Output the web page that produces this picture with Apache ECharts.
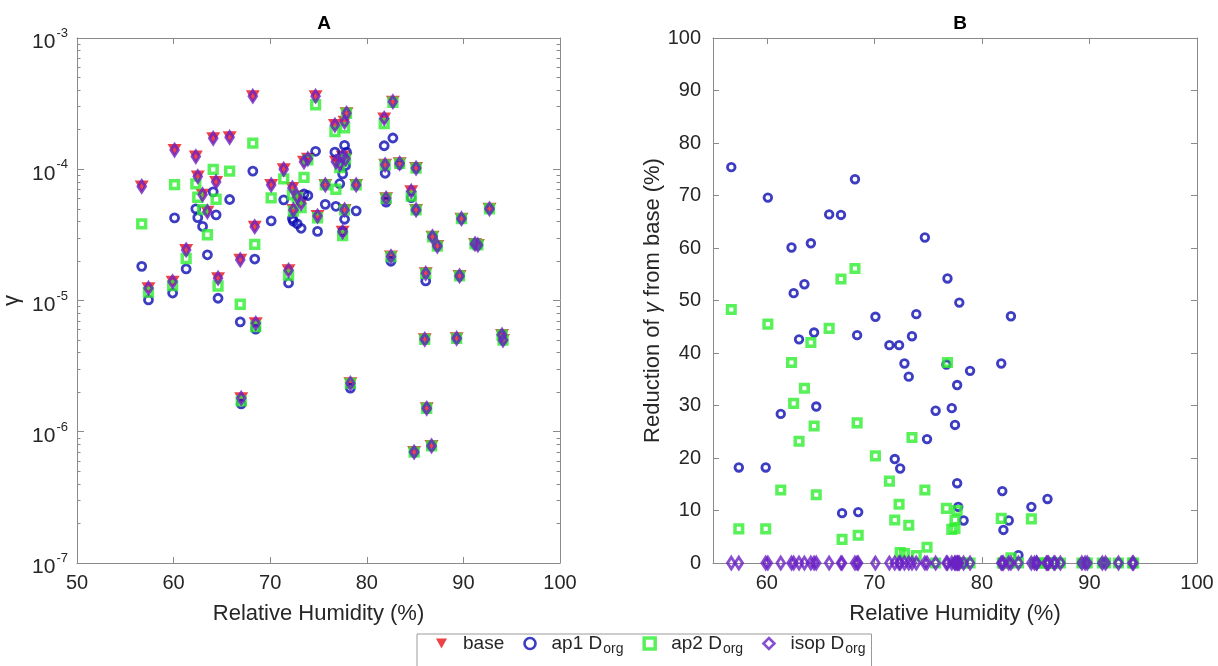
<!DOCTYPE html>
<html><head><meta charset="utf-8">
<script src="https://cdn.jsdelivr.net/npm/echarts@6/dist/echarts.min.js"></script>
<style>html,body{margin:0;padding:0;background:#fff}#c{width:1218px;height:666px}</style>
</head><body><div id="c"></div>
<script>
// Relative humidity (%) of each case
const rh = [56.7,57.4,59.9,60.1,61.3,62.3,62.5,63.0,63.5,64.1,64.4,64.6,65.8,66.9,67.0,68.2,68.4,68.5,70.1,71.4,71.9,72.3,72.4,72.8,73.2,73.5,73.9,74.7,74.9,75.7,76.7,76.8,77.2,77.5,77.5,77.7,77.7,77.8,77.9,78.3,78.9,81.8,81.9,82.0,82.5,82.7,83.4,84.6,84.9,85.1,85.1,86.0,86.1,86.2,86.7,86.8,87.3,89.3,89.6,89.8,91.2,91.5,92.7,94.0,94.1];
// Panel A: gamma values
const gBase = [7.4e-5,1.24e-5,1.39e-5,1.40e-4,2.43e-5,1.25e-4,8.8e-5,6.4e-5,4.75e-5,1.72e-4,8.0e-5,1.48e-5,1.75e-4,2.04e-5,1.8e-6,3.6e-4,3.65e-5,6.7e-6,7.6e-5,1.0e-4,1.7e-5,7.2e-5,4.9e-5,6.2e-5,5.5e-5,1.14e-4,1.2e-4,3.6e-4,4.4e-5,7.6e-5,2.17e-4,1.14e-4,1.1e-4,1.25e-4,3.34e-5,2.3e-4,4.9e-5,1.2e-4,2.67e-4,2.34e-6,7.6e-5,2.44e-4,1.08e-4,6.0e-5,2.16e-5,3.27e-4,1.11e-4,6.8e-5,7.0e-7,1.02e-4,4.9e-5,5.06e-6,1.61e-5,1.51e-6,7.8e-7,3.06e-5,2.6e-5,5.15e-6,1.54e-5,4.2e-5,2.7e-5,2.65e-5,5.0e-5,5.46e-6,5.0e-6];
const gAp1 = [1.82e-5,1.01e-5,1.14e-5,4.26e-5,1.74e-5,4.99e-5,4.28e-5,3.67e-5,2.23e-5,6.73e-5,4.49e-5,1.04e-5,5.88e-5,6.87e-6,1.63e-6,9.68e-5,2.07e-5,6.05e-6,4.04e-5,5.85e-5,1.36e-5,4.21e-5,4.02e-5,3.84e-5,3.55e-5,6.48e-5,6.31e-5,1.37e-4,3.36e-5,5.40e-5,1.35e-4,5.22e-5,7.76e-5,9.21e-5,3.34e-5,1.52e-4,4.16e-5,1.07e-4,1.35e-4,2.15e-6,4.82e-5,1.51e-4,9.32e-5,5.62e-5,1.99e-5,1.73e-4,1.09e-4,6.07e-5,7.0e-7,1.02e-4,4.9e-5,5.06e-6,1.41e-5,1.51e-6,7.8e-7,3.06e-5,2.6e-5,5.15e-6,1.54e-5,4.2e-5,2.7e-5,2.65e-5,5.0e-5,5.46e-6,5.0e-6];
const gAp2 = [3.83e-5,1.16e-5,1.30e-5,7.63e-5,2.09e-5,7.73e-5,6.12e-5,4.92e-5,3.17e-5,9.98e-5,5.91e-5,1.29e-5,9.68e-5,9.36e-6,1.72e-6,1.58e-4,2.68e-5,6.34e-6,6.05e-5,8.44e-5,1.56e-5,6.39e-5,4.80e-5,6.09e-5,5.10e-5,8.68e-5,1.18e-4,3.10e-4,4.27e-5,7.6e-5,1.94e-4,7.04e-5,1.03e-4,1.15e-4,3.12e-5,2.07e-4,4.9e-5,1.2e-4,2.67e-4,2.34e-6,7.6e-5,2.23e-4,1.08e-4,6.0e-5,2.16e-5,3.24e-4,1.11e-4,6.23e-5,7.0e-7,1.02e-4,4.9e-5,5.06e-6,1.61e-5,1.51e-6,7.8e-7,3.06e-5,2.6e-5,5.15e-6,1.54e-5,4.2e-5,2.7e-5,2.65e-5,5.0e-5,5.46e-6,5.0e-6];
const gIsop = [7.4e-5,1.24e-5,1.39e-5,1.40e-4,2.43e-5,1.25e-4,8.8e-5,6.4e-5,4.75e-5,1.72e-4,8.0e-5,1.48e-5,1.75e-4,2.04e-5,1.8e-6,3.6e-4,3.65e-5,6.7e-6,7.6e-5,1.0e-4,1.7e-5,7.2e-5,4.9e-5,6.2e-5,5.5e-5,1.14e-4,1.2e-4,3.6e-4,4.4e-5,7.6e-5,2.17e-4,1.14e-4,1.1e-4,1.25e-4,3.34e-5,2.3e-4,4.9e-5,1.2e-4,2.67e-4,2.34e-6,7.6e-5,2.44e-4,1.08e-4,6.0e-5,2.16e-5,3.27e-4,1.11e-4,6.8e-5,7.0e-7,1.02e-4,4.9e-5,5.06e-6,1.61e-5,1.51e-6,7.8e-7,3.06e-5,2.6e-5,5.15e-6,1.54e-5,4.2e-5,2.7e-5,2.65e-5,5.0e-5,5.46e-6,5.0e-6];
// Panel B: reduction of gamma from base (%)
const redAp1 = [75.4,18.2,18.2,69.6,28.4,60.1,51.4,42.6,53.1,60.9,43.9,29.8,66.4,66.3,9.5,73.1,43.4,9.7,46.9,41.5,19.8,41.5,18.0,38.0,35.5,43.2,47.4,62.0,23.6,29.0,37.8,54.2,29.5,26.3,0,33.9,15.2,10.7,49.6,8.1,36.6,38.0,13.7,6.3,8.1,47.0,1.5,10.7,0,0,0,0,12.2,0,0,0,0,0,0,0,0,0,0,0,0];
const redAp2 = [48.3,6.5,6.5,45.5,13.9,38.2,30.4,23.2,33.3,42.0,26.1,13.0,44.7,54.1,4.5,56.1,26.7,5.3,20.4,15.6,8.2,11.2,2.0,1.8,7.2,23.9,1.4,13.9,3.0,0,10.4,38.2,6.4,8.2,6.6,10.0,0,0,0,0,0,8.5,0,0,0,1.0,0,8.4,0,0,0,0,0,0,0,0,0,0,0,0,0,0,0,0,0];
const redIsop = [0,0,0,0,0,0,0,0,0,0,0,0,0,0,0,0,0,0,0,0,0,0,0,0,0,0,0,0,0,0,0,0,0,0,0,0,0,0,0,0,0,0,0,0,0,0,0,0,0,0,0,0,0,0,0,0,0,0,0,0,0,0,0,0,0];
// Tick values
const decadeTicks = [1e-7,1e-6,1e-5,1e-4,1e-3];
const minorTicksA = [2e-7,3e-7,4e-7,5e-7,6e-7,7e-7,8e-7,9e-7,2e-6,3e-6,4e-6,5e-6,6e-6,7e-6,8e-6,9e-6,2e-5,3e-5,4e-5,5e-5,6e-5,7e-5,8e-5,9e-5,2e-4,3e-4,4e-4,5e-4,6e-4,7e-4,8e-4,9e-4];
const xTicksB = [60,70,80,90,100];

const FONT = '"Liberation Sans", Arial, Helvetica, sans-serif';
const AX = '#8a8a8a', TXT = '#262626';
const RED = '#e8141a', BLUE = '#0c0cb4', GREEN = '#30ee30', PURPLE = '#6c22c4';
const triDown = 'path://M0,0L10,0L5,9Z';
const pairs = (xs, ys) => xs.map((x, i) => [x, ys[i]]);

const chart = echarts.init(document.getElementById('c'));

const lineStyle = {color: AX, width: 1};
function xAx(grid, pos, min, max, withLabel, name) {
  const a = {
    gridIndex: grid, type: 'value', position: pos, min: min, max: max,
    axisLine: {show: true, onZero: false, lineStyle},
    axisTick: {show: true, inside: true, length: 6, lineStyle},
    axisLabel: {show: withLabel, fontSize: 20, color: TXT, fontFamily: FONT, margin: 10},
    splitLine: {show: false}
  };
  if (min === 50) { a.interval = 10; } else { a.axisTick.customValues = xTicksB; a.axisLabel.customValues = xTicksB; }
  if (name) {
    a.name = name; a.nameLocation = 'middle'; a.nameGap = 40;
    a.nameTextStyle = {fontSize: 22, color: TXT, fontFamily: FONT};
  }
  return a;
}
const expLabel = {
  b: {fontSize: 21, color: TXT, fontFamily: FONT, lineHeight: 30, verticalAlign: 'bottom'},
  e: {fontSize: 13, color: TXT, fontFamily: FONT, lineHeight: 30, verticalAlign: 'top', padding: [4, 0, 0, 1]}
};
function logAx(pos, withLabel, ticks, len, line) {
  return {
    gridIndex: 0, type: 'log', logBase: 10, position: pos, min: 1e-7, max: 1e-3,
    axisLine: {show: line, onZero: false, lineStyle},
    axisTick: {show: true, inside: true, length: len, lineStyle, customValues: ticks},
    axisLabel: {show: withLabel, margin: 9, customValues: decadeTicks,
      formatter: v => '{b|10}{e|' + Math.round(Math.log10(v)) + '}', rich: expLabel},
    splitLine: {show: false}
  };
}
function linAx(pos, withLabel) {
  return {
    gridIndex: 1, type: 'value', position: pos, min: 0, max: 100, interval: 10,
    axisLine: {show: true, onZero: false, lineStyle},
    axisTick: {show: true, inside: true, length: 6, lineStyle},
    axisLabel: {show: withLabel, fontSize: 20, color: TXT, fontFamily: FONT, margin: 12},
    splitLine: {show: false}
  };
}

const yA0 = logAx('left', true, decadeTicks, 7, true);
yA0.name = 'γ'; yA0.nameLocation = 'middle'; yA0.nameGap = 54;
yA0.nameTextStyle = {fontSize: 22, color: TXT, fontFamily: FONT};
const yB0 = linAx('left', true);
yB0.name = '{n|Reduction of }{g|γ}{n| from base (%)}';
yB0.nameLocation = 'middle'; yB0.nameGap = 46;
yB0.nameTextStyle = {rich: {
  n: {fontSize: 22, color: TXT, fontFamily: FONT},
  g: {fontSize: 22, color: TXT, fontFamily: FONT, fontStyle: 'italic'}
}};

const open = (c, w) => ({color: 'rgba(0,0,0,0)', borderColor: c, borderWidth: w});
function sc(name, xi, yi, data, symbol, size, style, z) {
  return {name, type: 'scatter', xAxisIndex: xi, yAxisIndex: yi, data, symbol, symbolSize: size,
    itemStyle: style, z, clip: false, silent: true, animation: false};
}

const legRich = {
  t: {fontSize: 19, color: TXT, fontFamily: FONT, lineHeight: 26, verticalAlign: 'middle', padding: [0, 0, 0, 11]},
  s: {fontSize: 14, color: TXT, fontFamily: FONT, lineHeight: 26, verticalAlign: 'bottom', padding: [0, 0, 0, 1]}
};

chart.setOption({
  animation: false,
  backgroundColor: '#fff',
  title: [
    {text: 'A', left: 319, top: 9, textAlign: 'center', textStyle: {fontSize: 19, fontWeight: 'bold', color: '#000', fontFamily: FONT}},
    {text: 'B', left: 955, top: 9, textAlign: 'center', textStyle: {fontSize: 19, fontWeight: 'bold', color: '#000', fontFamily: FONT}}
  ],
  grid: [
    {left: 77, top: 38, width: 483, height: 525},
    {left: 713, top: 38, width: 484, height: 525}
  ],
  xAxis: [
    xAx(0, 'bottom', 50, 100, true, 'Relative Humidity (%)'),
    xAx(0, 'top', 50, 100, false),
    xAx(1, 'bottom', 55, 100, true, 'Relative Humidity (%)'),
    xAx(1, 'top', 55, 100, false)
  ],
  yAxis: [
    yA0,
    logAx('right', false, decadeTicks, 7, true),
    logAx('left', false, minorTicksA, 3.5, false),
    logAx('right', false, minorTicksA, 3.5, false),
    yB0,
    linAx('right', false)
  ],
  legend: {
    left: 417, top: 634, orient: 'horizontal',
    itemWidth: 11, itemHeight: 11, itemGap: 19,
    padding: [0, 6, 12, 19],
    borderColor: '#9a9a9a', borderWidth: 1, backgroundColor: '#fff',
    selectedMode: false,
    textStyle: {rich: legRich},
    formatter: n => n === 'base' ? '{t|base}' : '{t|' + n + ' D}{s|org}',
    data: [
      {name: 'base', icon: triDown, itemStyle: {color: RED, borderWidth: 0}},
      {name: 'ap1', icon: 'circle', itemStyle: {color: 'rgba(0,0,0,0)', borderColor: BLUE, borderWidth: 2.6}},
      {name: 'ap2', icon: 'rect', itemStyle: {color: 'rgba(0,0,0,0)', borderColor: GREEN, borderWidth: 3.5}},
      {name: 'isop', icon: 'diamond', itemStyle: {color: 'rgba(0,0,0,0)', borderColor: PURPLE, borderWidth: 2.6}}
    ]
  },
  series: [
    sc('base', 0, 0, pairs(rh, gBase), triDown, [14, 12], {color: RED}, 2),
    sc('ap1', 0, 0, pairs(rh, gAp1), 'circle', 8, open(BLUE, 2.8), 3),
    sc('ap2', 0, 0, pairs(rh, gAp2), 'rect', 7.8, open(GREEN, 3.5), 4),
    sc('isop', 0, 0, pairs(rh, gIsop), 'diamond', [7.5, 11.5], open(PURPLE, 3), 5),
    sc('ap1', 2, 4, pairs(rh, redAp1), 'circle', 7.6, open(BLUE, 2.8), 3),
    sc('ap2', 2, 4, pairs(rh, redAp2), 'rect', 7.6, open(GREEN, 3.5), 4),
    sc('isop', 2, 4, pairs(rh, redIsop), 'diamond', [7.5, 11.5], open(PURPLE, 3), 5)
  ]
});
</script>
</body></html>
